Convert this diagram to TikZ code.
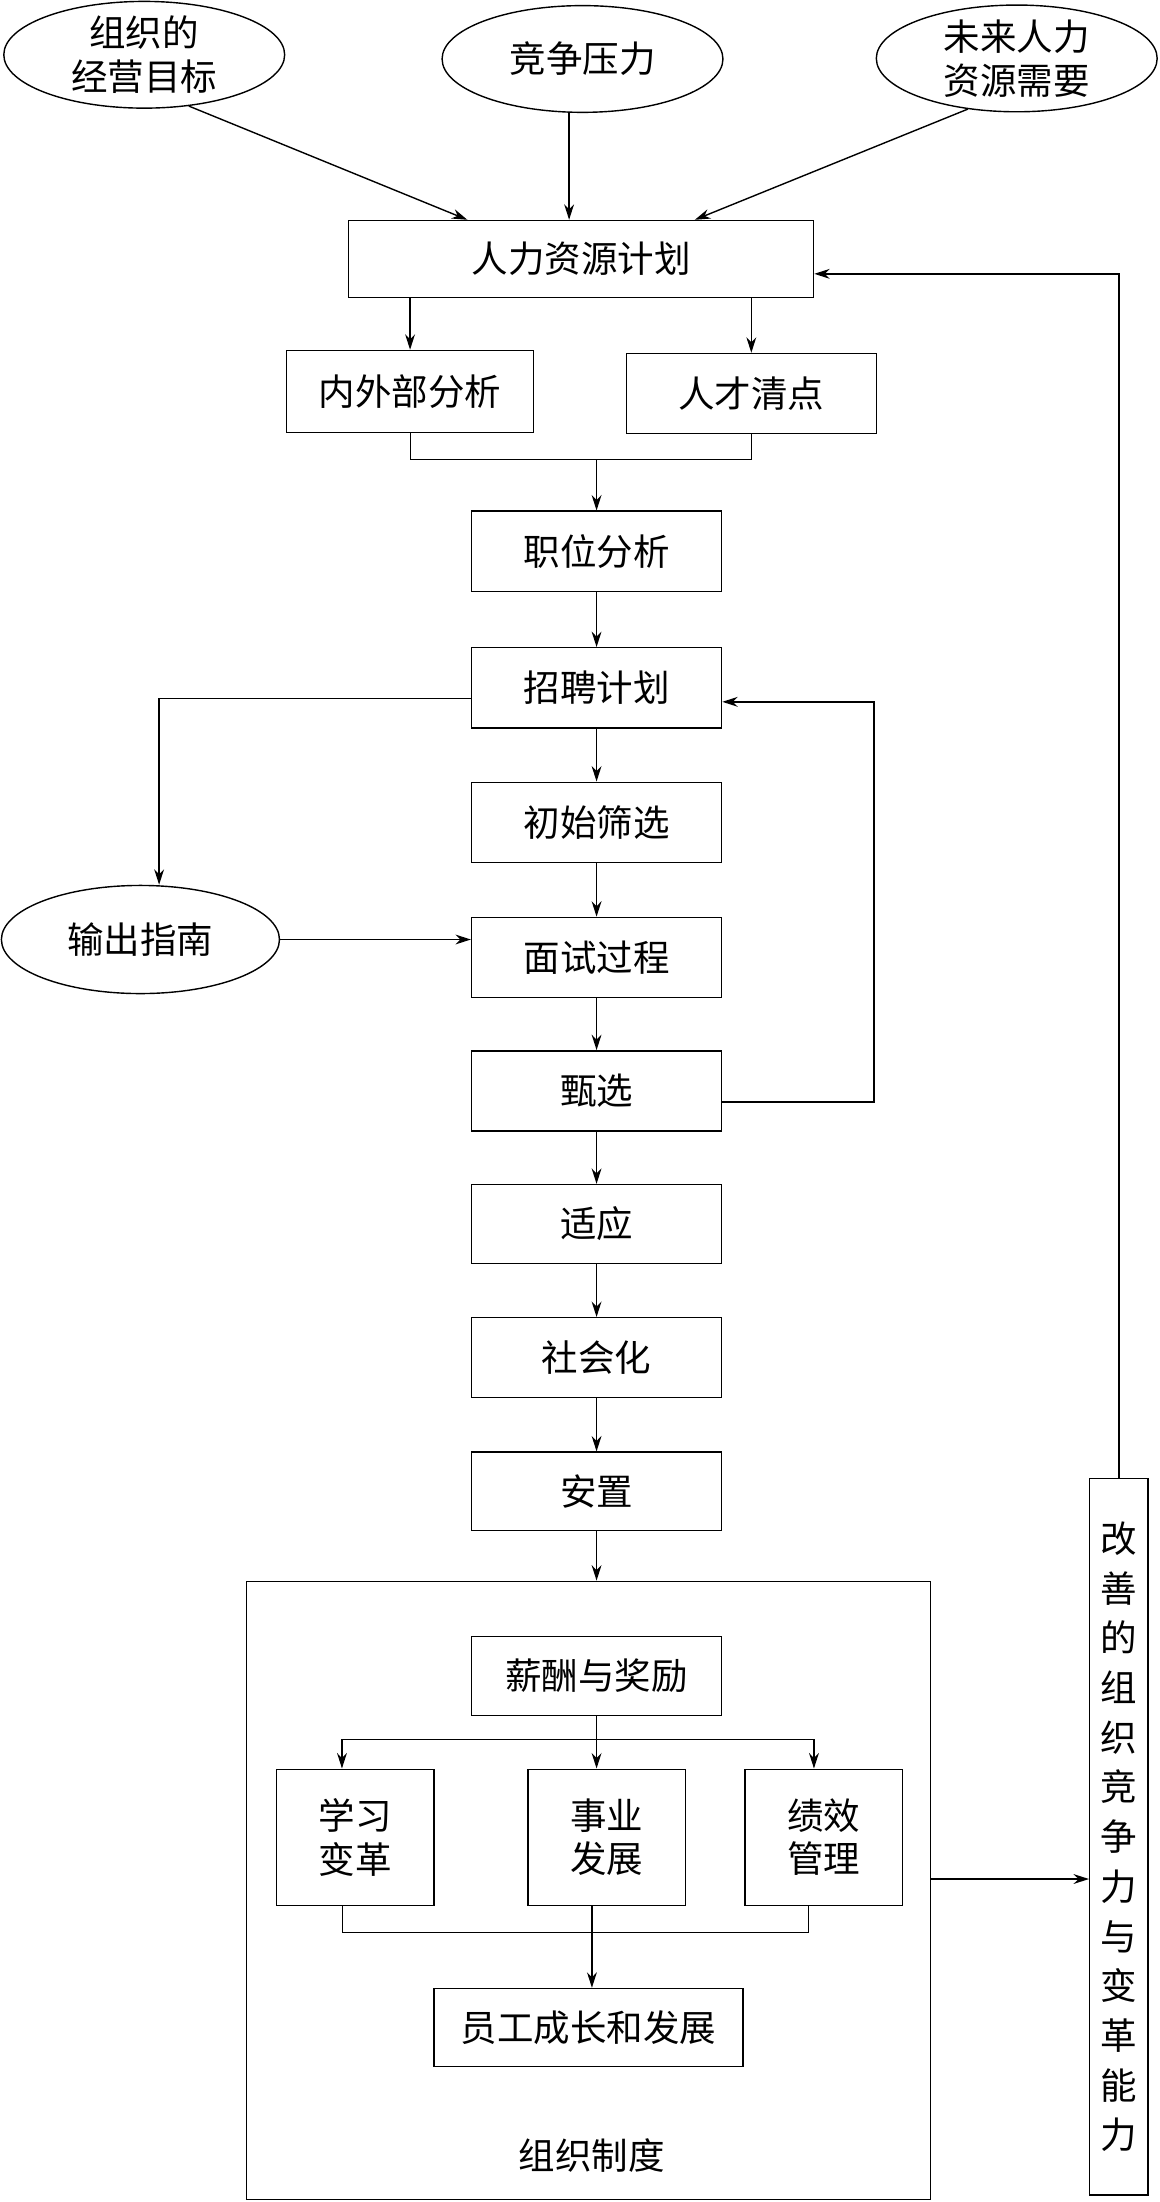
\documentclass[tikz,border=0pt]{standalone}
\usepackage{fontspec}
\setmainfont{Noto Sans CJK SC}
\usetikzlibrary{arrows.meta,shapes.geometric}

\begin{document}
\begin{tikzpicture}[x=1pt,y=-1pt,
    box/.style={draw,line width=1pt,minimum width=178pt,minimum height=57pt,inner sep=0pt,align=center},
    oval/.style={draw,ellipse,line width=1pt,minimum width=200pt,minimum height=76pt,inner sep=-4pt,align=center},
    arr/.style={-{Stealth[length=11pt,width=7pt]},line width=1pt},
    font=\fontsize{26}{31}\selectfont]
    \useasboundingbox (0,0) rectangle (826,1568);

    % Inputs
    \node[oval] (goal) at (102.7,39) {组织的\\经营目标};
    \node[oval] (press) at (414.8,42) {竞争压力};
    \node[oval] (future) at (724,41.6) {未来人力\\资源需要};
    \node[box,minimum width=331pt,minimum height=55pt] (hrp) at (413.8,184.5) {人力资源计划};
    \draw[arr] (goal.-49) -- ([xshift=-81pt]hrp.north);
    \draw[arr] (press.256) -- (press.256 |- hrp.north);
    \draw[arr] (future.226) -- ([xshift=81pt]hrp.north);

    % Analysis
    \node[box,minimum width=176pt,minimum height=58.5pt] (inout) at (292,278.8) {内外部分析};
    \node[box] (talent) at (535,280.2) {人才清点};
    \draw[arr] (inout.north |- hrp.south) -- (inout.north);
    \draw[arr] (talent.north |- hrp.south) -- (talent.north);

    % Recruiting chain
    \node[box] (job) at (424.8,392.5) {职位分析};
    \node[box] (plan) at (424.8,489.75) {招聘计划};
    \node[box] (screen) at (424.8,585.5) {初始筛选};
    \node[box] (interview) at (424.8,681.75) {面试过程};
    \node[box] (select) at (424.8,776.75) {甄选};
    \node[box,minimum height=56pt] (adapt) at (424.8,871.5) {适应};
    \node[box] (social) at (424.8,966.8) {社会化};
    \node[box,minimum height=56pt] (place) at (424.8,1062) {安置};
    \draw (inout.south) -- ++(0,18.5) coordinate (m1) -| (talent.south);
    \draw[arr] (m1 -| job.north) -- (job.north);

    % Guide
    \node[oval,minimum width=198pt,minimum height=77pt] (guide) at (100,669) {输出指南};
    \draw[arr] ([yshift=-7.5pt]plan.west) -| ([xshift=13.3pt]guide.north);
    \draw[arr] (guide.east) -- (guide.east -| interview.west);
    \draw[arr] ([yshift=-8pt]select.east) -- ++(108,0) |- ([yshift=-10pt]plan.east);

    % Organisation system
    \node[draw,line width=1pt,minimum width=487pt,minimum height=440pt] (sys) at (419,1346) {};
    \node (sysname) at (421.5,1535) {组织制度};
    \node[box,minimum height=56pt] (pay) at (424.8,1193.5) {薪酬与奖励};
    \node[box,minimum width=112pt,minimum height=97pt] (learn) at (253,1308.3) {学习\\变革};
    \node[box,minimum width=112pt,minimum height=97pt] (career) at (432,1308.3) {事业\\发展};
    \node[box,minimum width=112pt,minimum height=97pt] (perf) at (586.6,1308.3) {绩效\\管理};
    \node[box,minimum width=220pt,minimum height=55.5pt] (growth) at (419,1443.7) {员工成长和发展};

    \foreach \a/\b in {job/plan,plan/screen,screen/interview,interview/select,select/adapt,adapt/social,social/place,place/sys}
        \draw[arr] (\a.south) -- (\a.south |- \b.north);

    \draw (pay.south) -- ++(0,16.5) coordinate (m2);
    \draw[arr] (m2) -| ([xshift=-9.5pt]learn.north);
    \draw[arr] (m2) -| ([xshift=-7pt]perf.north);
    \draw[arr] (pay.south) -- (pay.south |- career.north);
    \draw ([xshift=-9.5pt]learn.south) -- ++(0,18.7) -| ([xshift=-10.8pt]perf.south);
    \draw[arr] ([xshift=-10.5pt]career.south) -- ([xshift=-10.5pt]career.south |- growth.north);

    % Feedback
    \node[draw,line width=1pt,minimum width=41.5pt,minimum height=510pt,inner sep=0pt,align=center,
        font=\fontsize{26}{35.4}\selectfont] (improve) at (796.7,1308)
        {改\\善\\的\\组\\织\\竞\\争\\力\\与\\变\\革\\能\\力};
    \draw[arr] ([yshift=8pt]sys.east) -- ([yshift=8pt]sys.east -| improve.west);
    \draw[arr] (improve.north) |- ([yshift=-10.5pt]hrp.east);
\end{tikzpicture}
\end{document}
